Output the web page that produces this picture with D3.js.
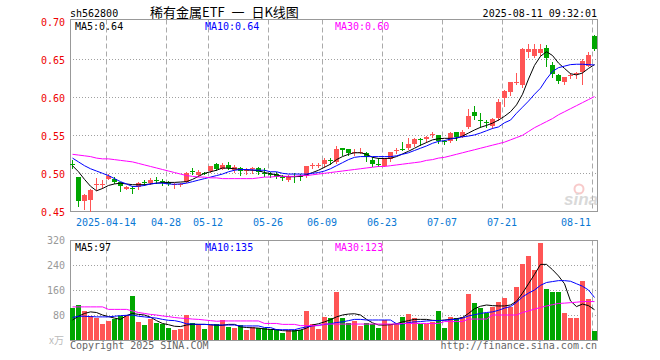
<!DOCTYPE html>
<html><head><meta charset="utf-8">
<script src="https://cdn.jsdelivr.net/npm/d3@7"></script>
<style>body{margin:0;background:#fff}svg{display:block}</style>
</head><body>
<svg id="c" width="660" height="360"></svg>
<script>
// ---------------- DATA ----------------
const code = "sh562800";
const title = "稀有金属ETF 一 日K线图";
const stamp = "2025-08-11 09:32:01";
const dates = [
"2025-04-03","2025-04-07","2025-04-08","2025-04-09","2025-04-10","2025-04-11","2025-04-14","2025-04-15","2025-04-16","2025-04-17",
"2025-04-18","2025-04-21","2025-04-22","2025-04-23","2025-04-24","2025-04-25","2025-04-28","2025-04-29","2025-04-30","2025-05-06",
"2025-05-07","2025-05-08","2025-05-09","2025-05-12","2025-05-13","2025-05-14","2025-05-15","2025-05-16","2025-05-19","2025-05-20",
"2025-05-21","2025-05-22","2025-05-23","2025-05-26","2025-05-27","2025-05-28","2025-05-29","2025-05-30","2025-06-03","2025-06-04",
"2025-06-05","2025-06-06","2025-06-09","2025-06-10","2025-06-11","2025-06-12","2025-06-13","2025-06-16","2025-06-17","2025-06-18",
"2025-06-19","2025-06-20","2025-06-23","2025-06-24","2025-06-25","2025-06-26","2025-06-27","2025-06-30","2025-07-01","2025-07-02",
"2025-07-03","2025-07-04","2025-07-07","2025-07-08","2025-07-09","2025-07-10","2025-07-11","2025-07-14","2025-07-15","2025-07-16",
"2025-07-17","2025-07-18","2025-07-21","2025-07-22","2025-07-23","2025-07-24","2025-07-25","2025-07-28","2025-07-29","2025-07-30",
"2025-07-31","2025-08-01","2025-08-04","2025-08-05","2025-08-06","2025-08-07","2025-08-08","2025-08-11"];
const open = [0.5125,0.4956,0.464,0.465,0.485,0.4853,0.4921,0.4925,0.4885,0.480,
0.4812,0.4825,0.4882,0.4877,0.4915,0.4893,0.489,0.4852,0.4852,0.489,
0.5025,0.4978,0.5003,0.5031,0.5123,0.5053,0.511,0.5044,0.5075,0.504,
0.5053,0.5075,0.5009,0.4996,0.4991,0.4946,0.4912,0.4958,0.4958,0.4965,
0.5107,0.5107,0.5123,0.5171,0.5154,0.5329,0.5316,0.528,0.528,0.5272,
0.5175,0.5121,0.5096,0.5184,0.5305,0.5318,0.5329,0.5386,0.5455,0.5447,
0.551,0.5504,0.5419,0.543,0.5548,0.5482,0.5614,0.5811,0.5697,0.567,
0.5627,0.5724,0.5987,0.6066,0.6193,0.6162,0.6592,0.6544,0.6579,0.6645,
0.6425,0.6294,0.6206,0.6283,0.6314,0.6329,0.6417,0.6811];
const high = [0.5175,0.4956,0.473,0.479,0.4934,0.4912,0.4985,0.4956,0.489,0.4833,
0.4833,0.489,0.4912,0.4934,0.4956,0.4925,0.4899,0.4877,0.4877,0.5022,
0.5066,0.5044,0.5022,0.5101,0.5132,0.514,0.5145,0.511,0.5088,0.5066,
0.5088,0.5088,0.5066,0.5022,0.5022,0.4978,0.4978,0.500,0.4991,0.5096,
0.5132,0.514,0.5197,0.5197,0.536,0.5329,0.5316,0.5316,0.5329,0.5285,
0.5219,0.5197,0.5206,0.5285,0.5329,0.5408,0.5461,0.5461,0.5461,0.5491,
0.5548,0.5504,0.5439,0.5548,0.5548,0.557,0.5846,0.5886,0.5789,0.5702,
0.5724,0.5974,0.6096,0.6206,0.6316,0.6645,0.6697,0.6697,0.6697,0.6689,
0.6469,0.6303,0.6272,0.6316,0.6338,0.6504,0.6601,0.682];
const low = [0.507,0.4575,0.4527,0.450,0.4781,0.4803,0.4921,0.4868,0.4768,0.4789,
0.4746,0.4789,0.4846,0.486,0.4877,0.4846,0.4846,0.4803,0.4833,0.489,
0.4991,0.4969,0.4987,0.5022,0.5044,0.5053,0.5053,0.5022,0.4974,0.4987,
0.500,0.4987,0.4965,0.4956,0.4934,0.4912,0.4904,0.489,0.4912,0.4947,
0.5066,0.5088,0.5088,0.5123,0.514,0.5241,0.5241,0.5241,0.5263,0.5167,
0.5096,0.5096,0.5096,0.5167,0.5263,0.5307,0.5316,0.536,0.5373,0.5417,
0.5474,0.5395,0.5386,0.5417,0.5439,0.5474,0.5601,0.5711,0.5614,0.5614,
0.5601,0.5702,0.5886,0.6031,0.6175,0.614,0.6526,0.6535,0.6557,0.6417,
0.6272,0.6193,0.6175,0.625,0.625,0.6171,0.6412,0.6623];
const close = [0.5115,0.464,0.472,0.478,0.4858,0.486,0.4965,0.4885,0.4838,0.4816,
0.4803,0.4877,0.4875,0.4912,0.491,0.4886,0.486,0.4858,0.4858,0.5009,
0.5018,0.5022,0.4997,0.5101,0.5053,0.511,0.5075,0.5088,0.5035,0.5046,
0.5075,0.5022,0.4991,0.499,0.4956,0.494,0.4969,0.4952,0.4952,0.5096,
0.5112,0.5112,0.5175,0.5165,0.5316,0.5307,0.5272,0.5286,0.5286,0.5219,
0.5123,0.5115,0.5197,0.5276,0.5311,0.5312,0.5386,0.5452,0.5449,0.5482,
0.5516,0.5425,0.5414,0.5535,0.5474,0.5548,0.5754,0.5754,0.569,0.5664,
0.5711,0.5943,0.6088,0.6197,0.6199,0.6636,0.6636,0.6636,0.6636,0.6513,
0.6303,0.6215,0.6263,0.6288,0.632,0.6482,0.6557,0.6636];
const volume = [103,112,93,78,69,51,61,66,78,80,
141,59,48,67,55,51,40,32,35,80,
55,51,35,48,51,64,43,40,48,32,
43,40,40,34,35,24,32,32,32,93,
51,35,75,69,155,69,55,61,45,55,
51,40,64,51,51,75,83,72,51,52,
58,93,40,75,69,75,147,120,104,85,
107,123,136,107,171,243,270,224,311,164,
155,155,88,72,72,189,132,29];
const ma5 = [0.510,0.502,0.492,0.483,0.477,0.480,0.484,0.486,0.487,0.486,
0.485,0.485,0.485,0.486,0.487,0.488,0.488,0.488,0.4885,0.489,
0.492,0.496,0.500,0.502,0.504,0.507,0.5066,0.506,0.505,0.5045,
0.504,0.5035,0.501,0.4995,0.498,0.496,0.4955,0.4955,0.496,0.498,
0.501,0.504,0.508,0.512,0.518,0.522,0.525,0.527,0.527,0.525,
0.521,0.5195,0.5195,0.5197,0.522,0.5255,0.529,0.533,0.537,0.5405,
0.544,0.5455,0.546,0.546,0.546,0.549,0.553,0.557,0.5605,0.563,
0.566,0.570,0.575,0.581,0.590,0.604,0.624,0.642,0.654,0.660,
0.655,0.645,0.638,0.631,0.6295,0.632,0.638,0.643];
const ma10 = [0.520,0.515,0.510,0.506,0.503,0.500,0.497,0.493,0.489,0.486,
0.4825,0.483,0.484,0.486,0.487,0.487,0.486,0.4855,0.486,0.487,
0.489,0.491,0.493,0.495,0.497,0.499,0.502,0.504,0.505,0.505,
0.5045,0.504,0.504,0.502,0.502,0.500,0.499,0.499,0.499,0.499,
0.500,0.501,0.503,0.506,0.510,0.514,0.518,0.521,0.522,0.522,
0.522,0.522,0.522,0.522,0.523,0.525,0.527,0.530,0.533,0.536,
0.5395,0.542,0.543,0.545,0.547,0.548,0.549,0.5505,0.553,0.556,
0.559,0.561,0.5665,0.570,0.579,0.587,0.595,0.604,0.612,0.624,
0.634,0.639,0.641,0.643,0.6435,0.6435,0.643,0.6425];
const ma30 = [0.525,0.524,0.523,0.522,0.520,0.519,0.519,0.518,0.517,0.516,
0.515,0.513,0.511,0.509,0.507,0.505,0.503,0.501,0.499,0.497,
0.496,0.495,0.495,0.494,0.494,0.493,0.493,0.493,0.493,0.493,
0.493,0.494,0.495,0.495,0.496,0.496,0.496,0.496,0.497,0.497,
0.498,0.499,0.500,0.501,0.502,0.503,0.504,0.505,0.506,0.507,
0.508,0.509,0.509,0.510,0.511,0.512,0.513,0.514,0.515,0.517,
0.518,0.520,0.521,0.523,0.525,0.527,0.529,0.531,0.533,0.535,
0.537,0.539,0.541,0.544,0.547,0.550,0.555,0.560,0.564,0.568,
0.572,0.577,0.581,0.585,0.589,0.593,0.597,0.601];
const volMa5 = [64,76,85,90,88,80,75,70,66,78,
85,82,80,73,62,53,49,44,43,48,
50,50,50,49,47,47,50,50,42,40,
39,38,35,34,33,30,29,29,32,38,
48,52,58,65,74,80,83,84,80,66,
55,48,48,49,52,58,62,66,66,66,
63,62,64,66,68,72,85,100,108,112,
110,109,109,112,124,150,180,210,242,242,
225,205,180,125,107,115,110,97];
const volMa10 = [72,76,76,75,74,74,74,76,78,79,
80,76,74,72,70,66,63,62,58,52,
51,50,50,49,48,48,48,48,45,45,
45,45,40,40,33,33,33,33,38,42,
45,47,50,52,56,58,62,66,66,64,
64,64,64,64,52,51,56,58,59,61,
62,62,63,65,66,70,77,81,85,88,
90,95,102,107,120,138,150,160,175,184,
187,190,190,188,180,172,160,136];
const volMa30 = [106,106,106,106,106,106,98,98,98,98,
93,88,85,82,80,77,75,72,70,69,
67,66,64,62,60,61,61,61,61,61,
61,61,53,53,53,50,50,50,46,46,
46,46,51,51,51,51,51,51,51,51,
51,51,51,51,51,53,53,53,53,53,
53,53,59,59,59,59,67,67,67,67,
80,80,80,80,80,88,93,99,104,109,
113,117,118,119.5,121,123,123,123];
const priceTicks = [0.45,0.50,0.55,0.60,0.65,0.70];
const volTicks = [80,160,240,320];
const dateTicks = ["2025-04-14","2025-04-28","2025-05-12","2025-05-26","2025-06-09","2025-06-23","2025-07-07","2025-07-21","2025-08-11"];
const dateTickLabels = ["2025-04-14","04-28","05-12","05-26","06-09","06-23","07-07","07-21","08-11"];
const priceMaNames = ["MA5","MA10","MA30"];
const priceMaLast = ["0.64","0.64","0.60"];
const volMaLast = ["97","135","123"];
const volUnit = "x万";
const copyright = "Copyright 2025 SINA.COM";
const siteUrl = "http://finance.sina.com.cn";

// ---------------- DRAW ----------------
const svg = d3.select("#c");
const MONO = "'DejaVu Sans Mono','Liberation Mono',monospace";
const UP = "#ff5555", DOWN = "#00a600";
const maColors = ["#000000","#0000ff","#ff00ff"];
const L = 70, Rx = 597;
const mainTop = 19.5, mainBot = 211.5, volTop = 240.5, volBot = 340.5;

svg.append("rect").attr("width",660).attr("height",360).attr("fill","#fff");

const x = d3.scaleBand().domain(dates).range([L, L + 6*dates.length]).paddingInner(0).paddingOuter(0);
const bw = x.bandwidth();
const cx = d => x(d) + 2.5;
const yP = d3.scaleLinear().domain([0.45,0.70]).range([211.3,21.3]);
const yV = d3.scaleLinear().domain([0,320]).range([340,240]);
const crisp = v => Math.round(v) + 0.5;

// horizontal dotted grid
const g = svg.append("g");
g.selectAll(".hp").data(priceTicks.filter(t=>t>0.45 && t<0.70)).join("line")
  .attr("x1",L).attr("x2",Rx).attr("y1",d=>crisp(yP(d)-0.5)).attr("y2",d=>crisp(yP(d)-0.5))
  .attr("stroke","#a0a0a0").attr("stroke-dasharray","1,2");
g.selectAll(".hv").data(volTicks.filter(t=>t<320)).join("line")
  .attr("x1",L).attr("x2",Rx).attr("y1",d=>crisp(yV(d)-0.5)).attr("y2",d=>crisp(yV(d)-0.5))
  .attr("stroke","#a0a0a0").attr("stroke-dasharray","1,2");
// vertical dashed grid
[[mainTop,mainBot],[volTop,volBot]].forEach(([t,b])=>{
  g.append("g").selectAll("line").data(dateTicks).join("line")
    .attr("x1",d=>x(d)+0.5).attr("x2",d=>x(d)+0.5).attr("y1",t).attr("y2",b)
    .attr("stroke","#aaaaaa").attr("stroke-dasharray","5,3");
});

// frames
[[mainTop,mainBot],[volTop,volBot]].forEach(([t,b])=>{
  svg.append("rect").attr("x",L+0.5).attr("y",t).attr("width",Rx-L).attr("height",b-t)
    .attr("fill","none").attr("stroke","#999").attr("stroke-width",1);
});

// watermark
const wm = svg.append("g").attr("opacity",0.55);
wm.append("circle").attr("cx",579).attr("cy",189).attr("r",4.5).attr("fill","none").attr("stroke","#f3a0a0").attr("stroke-width",2);
wm.append("text").attr("x",564).attr("y",205).text("sina")
  .attr("font-family","'Liberation Sans',Arial,sans-serif").attr("font-style","italic").attr("font-weight","bold")
  .attr("font-size",17).attr("fill","#bbbbbb");

// candles
const cdata = dates.map((d,i)=>({d,o:open[i],h:high[i],l:low[i],c:close[i],v:volume[i]}));
const cg = svg.append("g");
cg.selectAll("line").data(cdata).join("line")
  .attr("x1",d=>cx(d.d)).attr("x2",d=>cx(d.d))
  .attr("y1",d=>Math.round(yP(d.h))).attr("y2",d=>Math.round(yP(d.l))+1)
  .attr("stroke",d=>d.c>=d.o?UP:DOWN).attr("stroke-width",1);
cg.selectAll("rect").data(cdata).join("rect")
  .attr("x",d=>x(d.d)).attr("width",bw-1)
  .attr("y",d=>Math.round(yP(Math.max(d.o,d.c))))
  .attr("height",d=>Math.max(1,Math.round(yP(Math.min(d.o,d.c)))-Math.round(yP(Math.max(d.o,d.c)))))
  .attr("fill",d=>d.c>=d.o?UP:DOWN);

// price MA lines
const lineP = d3.line().x((v,i)=>cx(dates[i])).y(v=>yP(v));
[ma5,ma10,ma30].forEach((arr,k)=>{
  svg.append("path").attr("d",lineP(arr)).attr("fill","none").attr("stroke",maColors[k]).attr("stroke-width",1);
});

// volume bars
svg.append("g").selectAll("rect").data(cdata).join("rect")
  .attr("x",d=>x(d.d)).attr("width",bw-1)
  .attr("y",d=>Math.round(yV(d.v))).attr("height",d=>340-Math.round(yV(d.v)))
  .attr("fill",d=>d.c>=d.o?UP:DOWN);
const lineV = d3.line().x((v,i)=>cx(dates[i])).y(v=>yV(v));
[volMa5,volMa10,volMa30].forEach((arr,k)=>{
  svg.append("path").attr("d",lineV(arr)).attr("fill","none").attr("stroke",maColors[k]).attr("stroke-width",1);
});

// axes (labels only)
const ay = svg.append("g").attr("transform",`translate(${L},0)`)
  .call(d3.axisLeft(yP).tickValues(priceTicks).tickSize(0).tickPadding(5).tickFormat(d3.format(".2f")));
ay.select(".domain").remove();
ay.selectAll("text").attr("fill","#ee0000").attr("font-family",MONO).attr("font-size",10).attr("dy","0.37em");

const av = svg.append("g").attr("transform",`translate(${L},0)`)
  .call(d3.axisLeft(yV).tickValues(volTicks).tickSize(0).tickPadding(5).tickFormat(d3.format("d")));
av.select(".domain").remove();
av.selectAll("text").attr("fill","#999").attr("font-family",MONO).attr("font-size",10).attr("dy","0.37em");
svg.append("text").attr("x",64).attr("y",344).attr("text-anchor","end").text(volUnit)
  .attr("font-family","'Noto Sans CJK SC',"+MONO).attr("font-size",10).attr("fill","#bbbbbb");

// date labels
svg.append("g").selectAll("text").data(dateTicks).join("text")
  .attr("x",(d,i)=>{const w=dateTickLabels[i].length*6.02; let c=x(d); if(c+w/2>591) c=591-w/2; return c;})
  .attr("y",225.5).attr("text-anchor","middle").text((d,i)=>dateTickLabels[i])
  .attr("font-family",MONO).attr("font-size",10).attr("fill","#0a78d4");

// header
svg.append("text").attr("x",70).attr("y",16.5).text(code).attr("font-family",MONO).attr("font-size",10).attr("fill","#000");
svg.append("text").attr("x",150).attr("y",16.5).text(title).attr("word-spacing",4).style("white-space","pre")
  .attr("font-family","'Noto Sans CJK SC',sans-serif").attr("font-size",13).attr("fill","#000");
svg.append("text").attr("x",597).attr("y",16.5).attr("text-anchor","end").text(stamp).attr("font-family",MONO).attr("font-size",10).attr("fill","#000");

// MA labels
const maX = [75,205,335];
priceMaNames.forEach((n,k)=>{
  svg.append("text").attr("x",maX[k]).attr("y",30).text(n+":"+priceMaLast[k])
    .attr("font-family",MONO).attr("font-size",10).attr("fill",maColors[k]);
  svg.append("text").attr("x",maX[k]).attr("y",250.5).text(n+":"+volMaLast[k])
    .attr("font-family",MONO).attr("font-size",10).attr("fill",maColors[k]);
});

// footer
svg.append("text").attr("x",70).attr("y",349).text(copyright).attr("font-family",MONO).attr("font-size",10).attr("fill","#666");
svg.append("text").attr("x",597).attr("y",349).attr("text-anchor","end").text(siteUrl).attr("font-family",MONO).attr("font-size",10).attr("fill","#666");
</script>
</body></html>
